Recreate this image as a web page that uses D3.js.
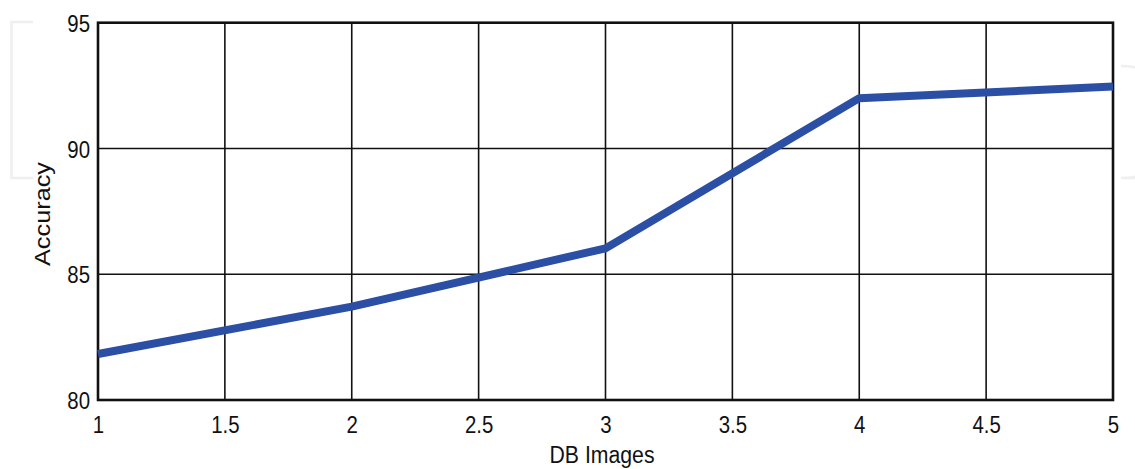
<!DOCTYPE html>
<html>
<head>
<meta charset="utf-8">
<script src="https://cdn.jsdelivr.net/npm/d3@7"></script>
<style>
  html, body { margin: 0; padding: 0; background: #fff; }
  svg { display: block; }
  text { font-family: "Liberation Sans", Arial, Helvetica, sans-serif; fill: #111; }
</style>
</head>
<body>
<svg id="chart" width="1135" height="469"></svg>
<script>
// Data
const dbImages = [1, 2, 3, 4, 5];
const accuracy = [81.83, 83.71, 86.03, 92.0, 92.46];
const xTicks = [1, 1.5, 2, 2.5, 3, 3.5, 4, 4.5, 5];
const yTicks = [80, 85, 90, 95];
const xLabel = "DB Images";
const yLabel = "Accuracy";

const svg = d3.select("#chart");
const W = 1135, H = 469;
const margin = { left: 98, top: 22.7, right: W - 1113, bottom: H - 400 };
const iw = W - margin.left - margin.right;
const ih = H - margin.top - margin.bottom;

// faint watermark shapes
const wm = svg.append("g").attr("fill", "none").attr("stroke", "#efefef").attr("stroke-width", 2.5);
wm.append("path").attr("d", "M33,22 L11.5,22 L11.5,178 L33,178");
wm.append("path").attr("d", "M1121,66 A62,56 0 0 1 1121,178 L1135,178");

const g = svg.append("g").attr("transform", `translate(${margin.left},${margin.top})`);

const x = d3.scaleLinear().domain([1, 5]).range([0, iw]);
const y = d3.scaleLinear().domain([80, 95]).range([ih, 0]);

// grid
g.append("g").selectAll("line").data(xTicks).join("line")
  .attr("x1", d => x(d)).attr("x2", d => x(d))
  .attr("y1", 0).attr("y2", ih)
  .attr("stroke", "#111").attr("stroke-width", 1.6);
g.append("g").selectAll("line").data(yTicks).join("line")
  .attr("x1", 0).attr("x2", iw)
  .attr("y1", d => y(d)).attr("y2", d => y(d))
  .attr("stroke", "#111").attr("stroke-width", 1.6);

// axes (labels only)
const xAxis = g.append("g").attr("transform", `translate(0,${ih})`)
  .call(d3.axisBottom(x).tickValues(xTicks).tickSize(0).tickPadding(16).tickFormat(d3.format("")));
const yAxis = g.append("g")
  .call(d3.axisLeft(y).tickValues(yTicks).tickSize(0).tickPadding(8).tickFormat(d3.format("")));
[xAxis, yAxis].forEach(a => {
  a.select(".domain").remove();
  a.selectAll("text").attr("font-size", 24).attr("fill", "#111")
    .style("font-family", '"Liberation Sans", Arial, sans-serif')
    .attr("transform", "scale(0.85,1)");
});
xAxis.selectAll("text").attr("dy", "0.71em");
yAxis.selectAll("text").attr("x", -8 / 0.85).attr("dy", "0.36em");

// frame
g.append("rect").attr("x", 0).attr("y", 0).attr("width", iw).attr("height", ih)
  .attr("fill", "none").attr("stroke", "#111").attr("stroke-width", 2.6);

// line
const pts = dbImages.map((d, i) => [d, accuracy[i]]);
g.append("path").datum(pts)
  .attr("fill", "none").attr("stroke", "#2b4fa4").attr("stroke-width", 8)
  .attr("stroke-linejoin", "round")
  .attr("d", d3.line().x(d => x(d[0])).y(d => y(d[1])));

// axis titles
svg.append("text").attr("x", 602).attr("y", 463).attr("text-anchor", "middle")
  .attr("font-size", 23).attr("textLength", 105).attr("lengthAdjust", "spacingAndGlyphs")
  .text(xLabel);
svg.append("text").attr("transform", "translate(50,214) rotate(-90)").attr("text-anchor", "middle")
  .attr("font-size", 22).attr("textLength", 104).attr("lengthAdjust", "spacingAndGlyphs")
  .text(yLabel);
</script>
</body>
</html>
